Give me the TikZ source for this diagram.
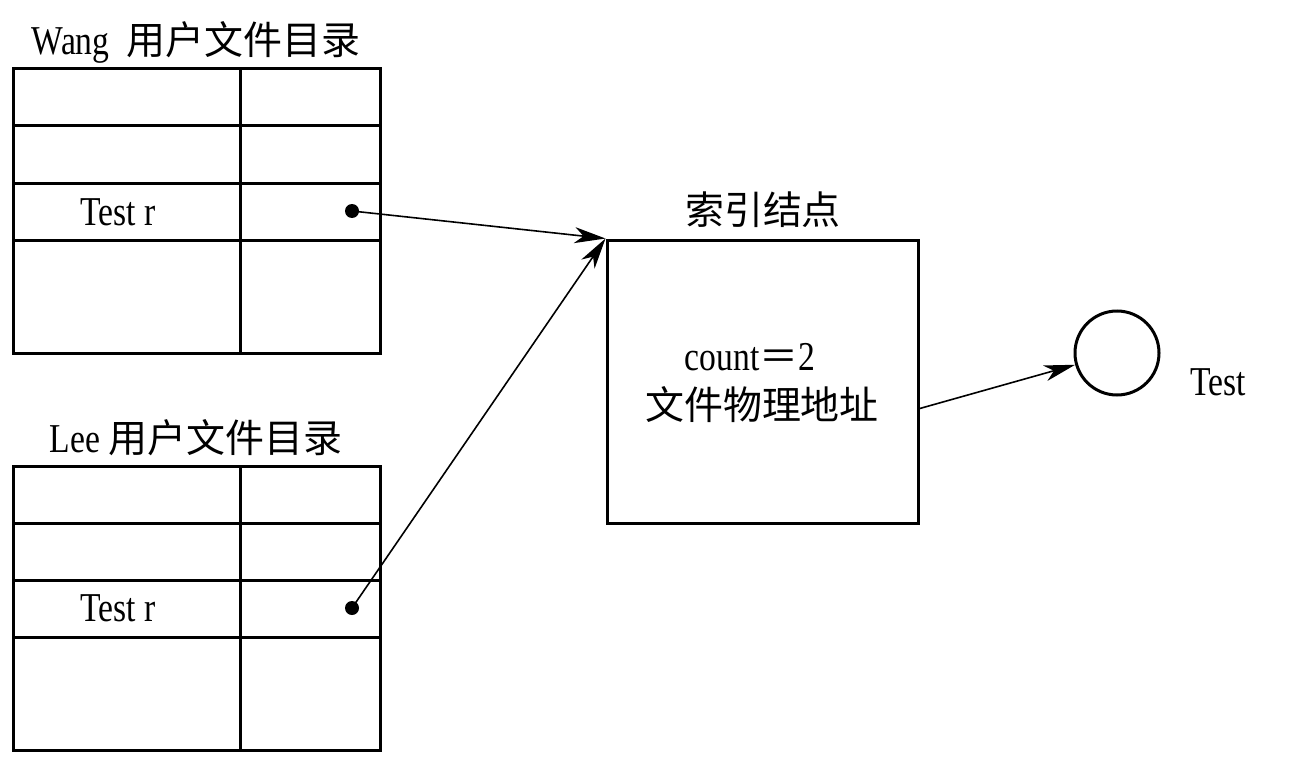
\documentclass[tikz,border=0pt]{standalone}
\usepackage{fontspec}
\setmainfont{Liberation Serif}[FakeStretch=0.82]
\newfontfamily\cjk{Noto Sans CJK SC}[Scale=0.95]
\usetikzlibrary{arrows.meta}
\tikzset{
  tbl/.style={line width=3pt},
  conn/.style={line width=1.6pt,-{Stealth[length=31pt,width=16pt,inset=9pt]}},
  lbl/.style={inner sep=0pt,font=\fontsize{41}{48}\selectfont},
  dotmark/.style={circle,fill=black,inner sep=0pt,minimum size=14pt},
}
\begin{document}
\begin{tikzpicture}[x=1pt,y=-1pt]
\useasboundingbox (0,0) rectangle (1301,765);
% Wang table
\draw[tbl] (13,69) rectangle (380,353);
\foreach \yy in {126,183,240} \draw[tbl] (13,\yy) -- (380,\yy);
\draw[tbl] (240,69) -- (240,353);
% Lee table
\draw[tbl] (13,466) rectangle (380,750);
\foreach \yy in {523,580,637} \draw[tbl] (13,\yy) -- (380,\yy);
\draw[tbl] (240,466) -- (240,750);
% titles
\node[lbl] (twang) at (196,42) {Wang\ \ {\cjk 用户文件目录}};
\node[lbl] (tlee) at (196,438) {Lee {\cjk 用户文件目录}};
\node[lbl] (rw) at (118,212) {Test r};
\node[lbl] (rl) at (118,608) {Test r};
% dots
\node[dotmark] (dw) at (352,211) {};
\node[dotmark] (dl) at (352,608) {};
% index node
\node[draw,line width=3pt,minimum width=311pt,minimum height=283pt,inner sep=0pt] (idx) at (762.5,381.5) {};
\node[lbl] (tidx) at (763,210) {\cjk 索引结点};
\node[lbl] (cnt) at (750,357) {count{\cjk ＝}2};
\node[lbl] (addr) at (762,405) {\cjk 文件物理地址};
% file circle
\node[draw,circle,line width=3pt,minimum size=84pt,inner sep=0pt] (tc) at (1117,353) {};
\node[lbl] (ttest) at (1218,382) {Test};
\coordinate (src) at (918,409);
% connectors
\draw[conn] (dw.center) -- (idx.north west);
\draw[conn] (dl.center) -- (idx.north west);
\draw[conn] (src) -- (tc);
\end{tikzpicture}
\end{document}
